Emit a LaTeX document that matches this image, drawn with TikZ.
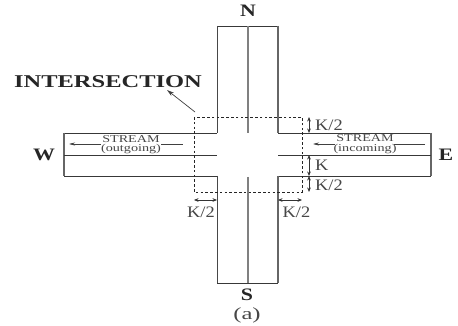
\documentclass[tikz,border=0pt]{standalone}
\usepackage{fontspec}
\setmainfont{Liberation Serif}
\usetikzlibrary{arrows.meta}
\definecolor{labc}{gray}{0.28}
\tikzset{
 x=1pt,y=-1pt,
 hroad/.style={draw=black!78,line width=0.8pt},
 vroad/.style={draw=black!60,line width=1.1pt},
 vroadd/.style={draw=black!72,line width=0.9pt},
 centre/.style={draw=black!50,line width=1.6pt},
 dbox/.style={draw=black!85,line width=0.9pt,dash pattern=on 2.6pt off 2.2pt},
 dim/.style={draw=black!80,line width=0.6pt,{Stealth[length=4.5pt,width=3.6pt]}-{Stealth[length=4.5pt,width=3.6pt]}},
 flow/.style={draw=black!75,line width=0.6pt,-{Stealth[length=6pt,width=3pt]}},
 lead/.style={draw=black!75,line width=0.7pt,-{Stealth[length=7pt,width=4pt]}},
 big/.style={text=black!85,inner sep=0pt},
 dimlab/.style={text=labc,inner sep=0pt},
 small/.style={text=labc,inner sep=0pt,align=center},
}
\newcommand{\bigtxt}[1]{\scalebox{1.25}[1]{\bfseries\fontsize{17.5}{18}\selectfont #1}}
\newcommand{\dimtxt}[1]{\scalebox{1.15}[1]{\fontsize{16}{17}\selectfont #1}}
\newcommand{\smalltxt}[1]{\scalebox{1.35}[1]{\fontsize{10.5}{10.5}\selectfont #1}}
\begin{document}
\begin{tikzpicture}
\useasboundingbox (0,0) rectangle (458,326);
\fill[white] (0,0) rectangle (458,326);
% road outline
\draw[hroad] (217,26) -- (278,26);
\draw[hroad] (217,283) -- (278,283);
\draw[hroad] (64,133) -- (217,133);
\draw[hroad] (278,133) -- (431,133);
\draw[hroad] (64,176) -- (217,176);
\draw[hroad] (278,176) -- (431,176);
\draw[vroadd] (217,26) -- (217,133);
\draw[vroadd] (217,176) -- (217,283);
\draw[vroad] (278,26) -- (278,133);
\draw[vroad] (278,176) -- (278,283);
\draw[vroad] (64,133) -- (64,176);
\draw[vroad] (431,133) -- (431,176);
% centre lines
\draw[centre] (248,26) -- (248,133);
\draw[centre] (248,177) -- (248,283);
\draw[hroad] (64,155) -- (217,155);
\draw[hroad] (278,155) -- (431,155);
% intersection box
\draw[dbox] (194,117) rectangle (302,192);
% labels
\node[big] (n) at (248,11) {\bigtxt{N}};
\node[big] (s) at (247,295) {\bigtxt{S}};
\node[big] (w) at (44,155) {\bigtxt{W}};
\node[big] (e) at (446,155) {\bigtxt{E}};
\node[dimlab] (a) at (247,315) {\scalebox{1.45}[1]{\fontsize{17}{18}\selectfont (a)}};
\node[big] (ilab) at (108,82) {\scalebox{1.36}[1]{\bfseries\fontsize{18}{18}\selectfont INTERSECTION}};
\coordinate (leadstart) at (195,112);
\coordinate (leadend) at (167,90);
\draw[lead] (leadstart) -- (leadend);
% streams
\node[small] (sout1) at (131,139) {\smalltxt{STREAM}};
\node[small] (sout2) at (131,149) {\smalltxt{(outgoing)}};
\node[small] (sin1) at (365,138.5) {\smalltxt{STREAM}};
\node[small] (sin2) at (365,149) {\smalltxt{(incoming)}};
\coordinate (o1) at (183,144); \coordinate (o2) at (69,144);
\coordinate (i1) at (425,144); \coordinate (i2) at (313,144);
\coordinate (o1s) at (161,144); \coordinate (o2s) at (101,144);
\coordinate (i1s) at (394,144); \coordinate (i2s) at (335,144);
\draw[draw=black!75,line width=0.6pt] (o1s) -- (o1);
\draw[flow] (o2s) -- (o2);
\draw[flow] (i2s) -- (i2);
\draw[draw=black!75,line width=0.6pt] (i1) -- (i1s);
% dimensions
\coordinate (r1) at (309,117); \coordinate (r2) at (309,133);
\coordinate (r3) at (309,155); \coordinate (r4) at (309,176);
\coordinate (r5) at (309,192);
\draw[dim] (r1) -- (r2);
\draw[dim] (r3) -- (r4);
\draw[dim] (r4) -- (r5);
\node[dimlab,anchor=west] (k1) at (315,125) {\dimtxt{K/2}};
\node[dimlab,anchor=west] (k2) at (315,165) {\dimtxt{K}};
\node[dimlab,anchor=west] (k3) at (315,185) {\dimtxt{K/2}};
\coordinate (b1) at (194,200); \coordinate (b2) at (217,200);
\coordinate (b3) at (278,200); \coordinate (b4) at (302,200);
\draw[dim] (b1) -- (b2);
\draw[dim] (b3) -- (b4);
\node[dimlab] (k4) at (201,212) {\dimtxt{K/2}};
\node[dimlab] (k5) at (296.5,212) {\dimtxt{K/2}};
\end{tikzpicture}
\end{document}
